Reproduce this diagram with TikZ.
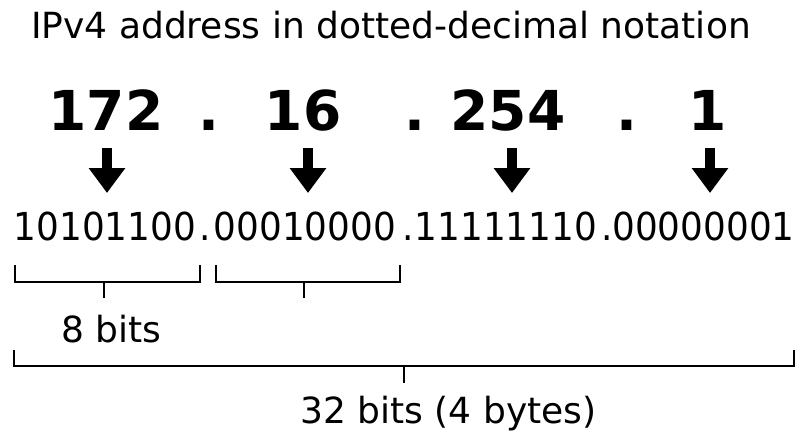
\documentclass[tikz,border=0pt]{standalone}
\usepackage{fontspec}
\setmainfont{DejaVu Sans}
\newfontfamily\binfont[FakeStretch=0.93]{DejaVu Sans}
\usetikzlibrary{arrows.meta}
\begin{document}
\begin{tikzpicture}[x=1pt,y=-1pt,
  txt/.style={inner sep=0pt, anchor=base},
  big/.style={txt, font=\fontsize{55}{60}\selectfont\bfseries},
  bin/.style={txt, font=\fontsize{38.5}{42}\selectfont\binfont},
  lbl/.style={txt, font=\fontsize{36}{40}\selectfont},
  blockarrow/.style={line width=10pt, line cap=butt, -{Triangle[width=35pt,length=25pt]}},
  brk/.style={line width=2pt, line join=miter}]
\useasboundingbox (0,0) rectangle (800,432);
% title
\node[lbl] (title) at (391,38) {IPv4 address in dotted-decimal notation};
% decimal octets
\node[big] (d1) at (106,130) {172};
\node[big] (p1) at (209,130) {.};
\node[big] (d2) at (303,130) {16};
\node[big] (p2) at (415,130) {.};
\node[big] (d3) at (508,130) {254};
\node[big] (p3) at (627,130) {.};
\node[big] (d4) at (708,130) {1};
% binary octets
\node[bin] (b1) at (105,240) {10101100};
\node[bin] (q1) at (205,240) {.};
\node[bin] (b2) at (305,240) {00010000};
\node[bin] (q2) at (408,240) {.};
\node[bin] (b3) at (506,240) {11111110};
\node[bin] (q3) at (607,240) {.};
\node[bin] (b4) at (703.5,240) {00000001};
% arrows
\coordinate (a1s) at (107,148); \coordinate (a1e) at (107,193);
\coordinate (a2s) at (308,148); \coordinate (a2e) at (308,193);
\coordinate (a3s) at (512,148); \coordinate (a3e) at (512,193);
\coordinate (a4s) at (710,148); \coordinate (a4e) at (710,193);
\draw[blockarrow] (a1s) -- (a1e);
\draw[blockarrow] (a2s) -- (a2e);
\draw[blockarrow] (a3s) -- (a3e);
\draw[blockarrow] (a4s) -- (a4e);
% byte brackets
\draw[brk] (15,265) -- (15,282) -- (200,282) -- (200,265);
\draw[brk] (104,282) -- (104,298);
\draw[brk] (216,265) -- (216,282) -- (400,282) -- (400,265);
\draw[brk] (304,282) -- (304,298);
\node[lbl] (eight) at (111.5,342) {8 bits};
% whole bracket
\draw[brk] (14,350) -- (14,366) -- (794,366) -- (794,350);
\draw[brk] (404,366) -- (404,383);
\node[lbl] (total) at (448.5,423) {32 bits (4 bytes)};
\end{tikzpicture}
\end{document}
